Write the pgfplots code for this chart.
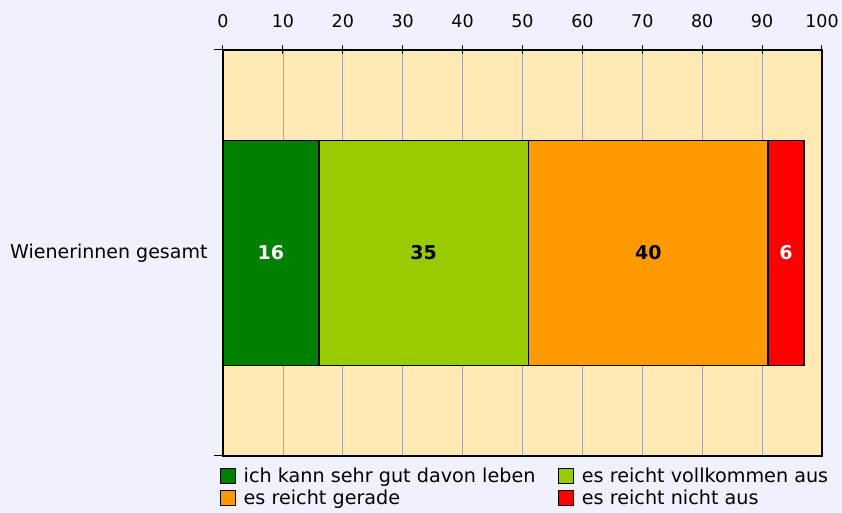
\documentclass[border=0pt]{standalone}
\usepackage{pgfplots}
\pgfplotsset{compat=1.18}
\usepackage{fontspec}
\setmainfont{DejaVu Sans}
\definecolor{bgc}{HTML}{F0F0FF}
\definecolor{plotbg}{HTML}{FFE9B5}
\definecolor{dgreen}{HTML}{008000}
\definecolor{lgreen}{HTML}{99CC00}
\definecolor{orng}{HTML}{FF9900}
\definecolor{rd}{HTML}{FF0000}
\begin{document}
\begin{tikzpicture}
\fill[bgc] (0,0) rectangle (842bp,513bp);
\begin{axis}[
  at={(223bp,57bp)}, anchor=south west,
  scale only axis, width=599bp, height=406bp,
  /pgf/number format/assume math mode=true,
  xbar stacked, bar width=0.554,
  xmin=0, xmax=100, ymin=-0.5, ymax=0.5,
  xtick={0,10,...,100},
  xticklabel pos=right, xtick pos=right,
  xtick align=center,
  major tick length=9bp,
  xtick style={draw=black, line width=1bp},
  xticklabel style={font=\fontsize{17.5bp}{20bp}\selectfont, yshift=14bp},
  ytick={0}, yticklabels={Wienerinnen gesamt}, ytick pos=left, ytick align=outside,
  ytick style={draw=none},
  yticklabel style={font=\fontsize{19bp}{22bp}\selectfont, xshift=-3bp},
  extra y ticks={-0.5,0.5}, extra y tick labels={},
  extra y tick style={ytick style={draw=black, line width=1bp}},
  xmajorgrids, grid style={gray!70, line width=0.6bp},
  axis line style={line width=1.3bp},
  axis background/.style={fill=plotbg},
  every axis plot/.append style={draw=black, line width=1.4bp},
  nodes near coords={\pgfmathprintnumber{\pgfplotspointmeta}},
  every node near coord/.append style={font=\bfseries\fontsize{19bp}{22bp}\selectfont, anchor=center},
  legend columns=2,
  legend cell align=left,
  legend style={at={(0,0)}, anchor=north west, yshift=-10bp, xshift=-3bp, draw=none, fill=none, inner sep=0pt,
    font=\fontsize{19.2bp}{22bp}\selectfont,
    /tikz/every even column/.append style={column sep=21bp},
    row sep=2bp},
  legend image code/.code={\path[draw=none, fill=none] (0bp,0bp) -- (21bp,0bp); \draw[#1, draw=black, line width=1bp] (0bp,-7.5bp) rectangle (15bp,7.5bp);},
]
\addplot[fill=dgreen, nodes near coords style={white}] coordinates {(16,0)};
\addplot[fill=lgreen, nodes near coords style={black}] coordinates {(35,0)};
\addplot[fill=orng, nodes near coords style={black}] coordinates {(40,0)};
\addplot[fill=rd, nodes near coords style={white}] coordinates {(6,0)};
\legend{ich kann sehr gut davon leben, es reicht vollkommen aus, es reicht gerade, es reicht nicht aus}
\end{axis}
\end{tikzpicture}
\end{document}
